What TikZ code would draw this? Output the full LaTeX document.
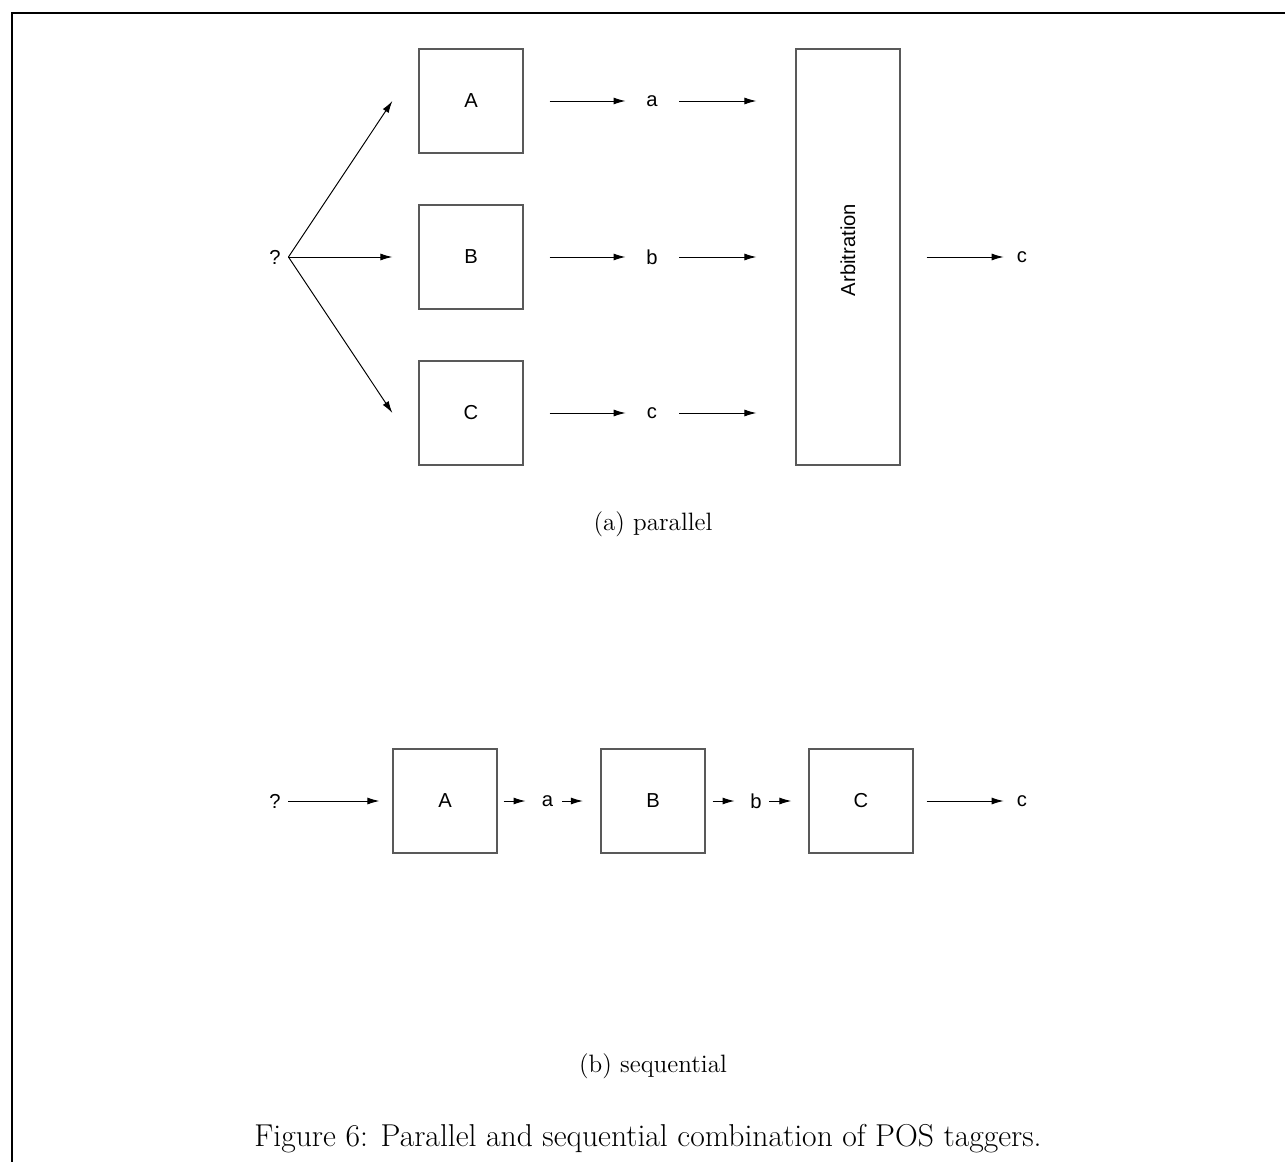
\documentclass[tikz,border=0pt]{standalone}
\usepackage{fontspec}
\newfontfamily\labelfont{Liberation Sans}
\usetikzlibrary{arrows.meta}

\begin{document}
\begin{tikzpicture}[x=0.02cm, y=-0.02cm,
  block/.style={rectangle, draw=black!65, line width=0.7pt, minimum width=2.08cm, minimum height=2.08cm, inner sep=0pt, font=\labelfont\fontsize{11.5}{13}\selectfont},
  lbl/.style={inner sep=0pt, minimum width=0.22cm, font=\labelfont\fontsize{11.5}{13}\selectfont},
  arr/.style={-{Latex[length=2.4mm, width=1.4mm]}, line width=0.55pt},
  capt/.style={inner sep=0pt, font=\fontsize{14.3}{17}\selectfont}]

    \useasboundingbox (0,0) rectangle (1285,1162);
    \draw[line width=1.2pt] (12,1162) -- (12,13) -- (1285,13);

    % (a) parallel
    \node[lbl] (q1) at (275,257) {?};
    \node[block] (A1) at (471,101) {A};
    \node[block] (B1) at (471,257) {B};
    \node[block] (C1) at (471,413) {C};
    \node[lbl] (la) at (652,101) {a};
    \node[lbl] (lb) at (652,257) {b};
    \node[lbl] (lc) at (652,413) {c};
    \node[block, minimum height=8.32cm] (arb) at (848,257) {};
    \node[lbl, rotate=90] (arbtxt) at (848,250) {Arbitration};
    \node[lbl] (out1) at (1022,257) {c};

    \coordinate (fan) at ([xshift=0.15cm]q1.east);
    \draw[arr] (fan) -- ([xshift=-0.52cm]A1.west);
    \draw[arr] (fan) -- ([xshift=-0.52cm]B1.west);
    \draw[arr] (fan) -- ([xshift=-0.52cm]C1.west);

    \foreach \t/\l in {A1/la, B1/lb, C1/lc} {
      \draw[arr, shorten <=0.52cm, shorten >=0.41cm] (\t.east) -- (\l.west);
      \draw[arr, shorten <=0.43cm, shorten >=0.78cm] (\l.east) -- (\l.east -| arb.west);
    }
    \draw[arr, shorten <=0.52cm, shorten >=0.25cm] (arb.east) -- (out1.west);

    \node[capt] (capa) at (653,524) {(a) parallel};

    % (b) sequential
    \node[lbl] (q2) at (275,801) {?};
    \node[block] (A2) at (445,801) {A};
    \node[lbl] (sa) at (547.5,801) {a};
    \node[block] (B2) at (653,801) {B};
    \node[lbl] (sb) at (756,801) {b};
    \node[block] (C2) at (861,801) {C};
    \node[lbl] (out2) at (1022,801) {c};

    \draw[arr, shorten <=0.15cm, shorten >=0.26cm] (q2.east) -- (A2.west);
    \draw[arr, shorten <=0.12cm, shorten >=0.32cm] (A2.east) -- (sa.west);
    \draw[arr, shorten <=0.18cm, shorten >=0.35cm] (sa.east) -- (B2.west);
    \draw[arr, shorten <=0.14cm, shorten >=0.31cm] (B2.east) -- (sb.west);
    \draw[arr, shorten <=0.15cm, shorten >=0.34cm] (sb.east) -- (C2.west);
    \draw[arr, shorten <=0.26cm, shorten >=0.25cm] (C2.east) -- (out2.west);

    \node[capt] (capb) at (653,1066) {(b) sequential};
    \node[inner sep=0pt, font=\fontsize{18}{21}\selectfont] (fig) at (648,1139) {Figure 6: Parallel and sequential combination of POS taggers.};

\end{tikzpicture}
\end{document}
